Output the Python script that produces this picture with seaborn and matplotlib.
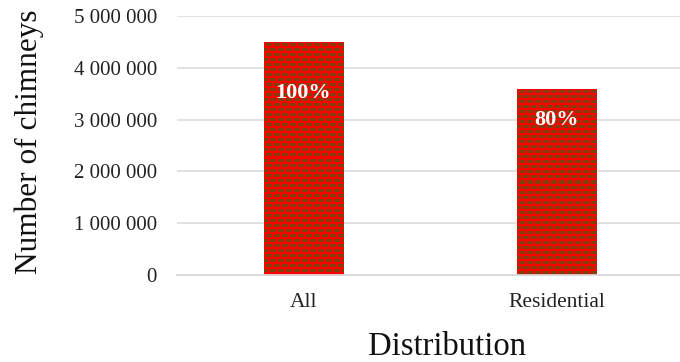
import numpy as np
import pandas as pd
import matplotlib
matplotlib.use("Agg")
import matplotlib.pyplot as plt
import seaborn as sns

categories = ["All", "Residential"]
values = [4500000, 3600000]
labels = ["100%", "80%"]
label_y = [3520000, 3000000]
yticks = [0, 1000000, 2000000, 3000000, 4000000, 5000000]

sns.set_theme(style="white")
plt.rcParams["font.family"] = ["Liberation Serif", "DejaVu Serif"]

df = pd.DataFrame({"cat": categories, "val": values})

fig, ax = plt.subplots(figsize=(6.8, 3.62), dpi=100)
fig.subplots_adjust(left=177/680, right=683/680, bottom=1-275/362, top=1-16/362)

sns.barplot(data=df, x="cat", y="val", color="#8B3A10", width=0.316, ax=ax,
            saturation=1, linewidth=0)

ax.set_xlim(-0.5, 1.5)
ax.set_ylim(0, 5000000)

# brick texture clipped to each bar
def brick_texture(h, w):
    red = np.array([1.0, 0.0, 0.0])
    brown = np.array([0.52, 0.24, 0.05])
    img = np.empty((h, w, 3))
    img[:] = red
    for r in range(h):
        rr = r % 5
        if rr < 2:
            continue
        brick_row = r // 5
        off = 0 if brick_row % 2 == 0 else 4
        for c in range(w):
            if (c + off) % 8 >= 2:
                img[r, c] = brown
    return img

fig.canvas.draw()
for patch in list(ax.patches):
    bb = patch.get_window_extent()
    w = max(1, int(round(bb.width)))
    h = max(1, int(round(bb.height)))
    x0, y0 = patch.get_x(), patch.get_y()
    x1, y1 = x0 + patch.get_width(), y0 + patch.get_height()
    im = ax.imshow(brick_texture(h, w), extent=[x0, x1, y0, y1], origin="upper",
                   aspect="auto", interpolation="nearest", zorder=patch.get_zorder() + 0.1)
    im.set_clip_path(patch)

ax.set_xlim(-0.5, 1.5)
ax.set_ylim(0, 5000000)

for i, (lab, yy) in enumerate(zip(labels, label_y)):
    ax.text(i, yy, lab, ha="center", va="center", color="white",
            fontsize=16, fontweight="bold", zorder=5)

ax.set_yticks(yticks)
ax.set_yticklabels([f"{v:,}".replace(",", " ") for v in yticks])
ax.yaxis.grid(True, color="#d9d9d9", linewidth=1.1)
ax.set_axisbelow(True)
for s in ["top", "right", "left"]:
    ax.spines[s].set_visible(False)
ax.spines["bottom"].set_color("#d9d9d9")
ax.spines["bottom"].set_linewidth(1.3)
ax.tick_params(axis="y", length=0, pad=14.5, labelsize=15, labelcolor="#222222")
ax.tick_params(axis="x", length=0, pad=13, labelsize=15.5, labelcolor="#222222")

ax.set_xlabel("Distribution", fontsize=23.5, color="#111111")
ax.set_ylabel("Number of chimneys", fontsize=22.5, color="#111111")
ax.xaxis.set_label_coords(0.534, -0.219)
ax.yaxis.set_label_coords(-0.262, 0.515)

fig.savefig("out.png", dpi=100)
